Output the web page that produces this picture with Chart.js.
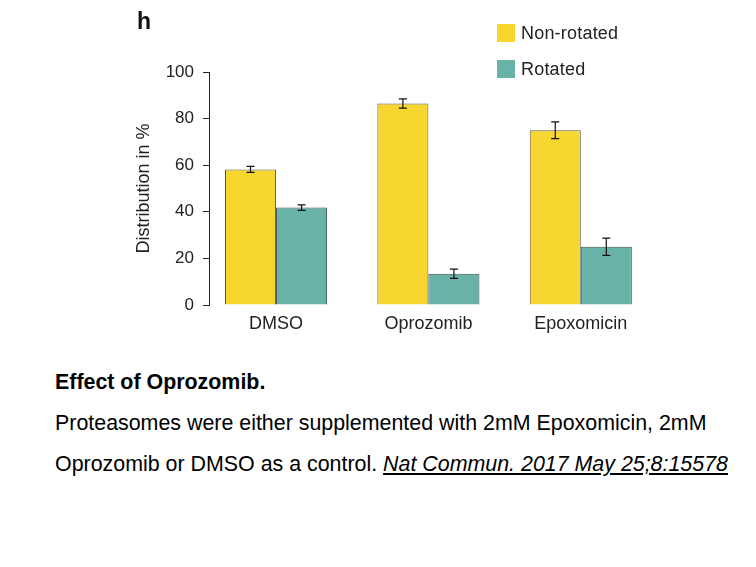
<!DOCTYPE html>
<html>
<head>
<meta charset="utf-8">
<script src="https://cdn.jsdelivr.net/npm/chart.js@4.4.0/dist/chart.umd.min.js"></script>
<style>
  body { margin: 0; background: #fff; font-family: "Liberation Sans", Arial, sans-serif; }
  #wrap { position: relative; width: 756px; height: 567px; }
  #chart { position: absolute; left: 0; top: 0; }
  #panel { position: absolute; left: 137px; top: 8px; font-size: 23px; font-weight: bold; color: #111; }
  #legend { position: absolute; left: 497px; top: 24px; font-size: 18px; color: #222; }
  #legend div { height: 36px; display: flex; align-items: flex-start; }
  #legend span.box { display: inline-block; width: 18px; height: 18px; margin-right: 6px; }
  #legend span.txt { line-height: 18px; letter-spacing: 0.2px; }
  #caption { position: absolute; left: 55px; top: 362px; font-size: 21.4px; color: #000; line-height: 41px; }
  #caption b { display: block; }
  #caption a { color: #000; font-style: italic; text-decoration: underline; }
</style>
</head>
<body>
<div id="wrap">
  <canvas id="chart" width="756" height="345"></canvas>
  <div id="panel">h</div>
  <div id="legend"></div>
  <div id="caption">
    <b>Effect of Oprozomib.</b>
    Proteasomes were either supplemented with 2mM Epoxomicin, 2mM<br>
    Oprozomib or DMSO as a control. <a href="#">Nat Commun. 2017 May 25;8:15578</a>
  </div>
</div>
<script>
var categories = ["DMSO", "Oprozomib", "Epoxomicin"];
var nonRotated = [58.2, 86.5, 75.0];
var nonRotatedErr = [1.3, 2.0, 3.6];
var rotated = [41.8, 13.4, 25.0];
var rotatedErr = [1.2, 2.0, 3.7];
var yTicks = [0, 20, 40, 60, 80, 100];

function points(vals) {
  return vals.map(function (v, i) { return { x: i, y: v }; });
}

var errorBars = {
  id: 'errorBars',
  afterDatasetsDraw: function (chart) {
    var ctx = chart.ctx;
    var y = chart.scales.y;
    ctx.save();
    ctx.strokeStyle = '#111';
    ctx.lineWidth = 1.2;
    chart.data.datasets.forEach(function (ds, di) {
      var meta = chart.getDatasetMeta(di);
      meta.data.forEach(function (bar, i) {
        var v = ds.data[i].y, e = ds.errors[i];
        var top = y.getPixelForValue(v + e), bot = y.getPixelForValue(v - e);
        ctx.beginPath();
        ctx.moveTo(bar.x, top); ctx.lineTo(bar.x, bot);
        ctx.moveTo(bar.x - 4, top); ctx.lineTo(bar.x + 4, top);
        ctx.moveTo(bar.x - 4, bot); ctx.lineTo(bar.x + 4, bot);
        ctx.stroke();
      });
    });
    ctx.restore();
  }
};

var chart = new Chart(document.getElementById('chart'), {
  type: 'bar',
  data: {
    datasets: [{
      label: 'Non-rotated',
      data: points(nonRotated),
      errors: nonRotatedErr,
      backgroundColor: '#F7D62F',
      borderColor: '#5a5a4a',
      borderWidth: 1
    }, {
      label: 'Rotated',
      data: points(rotated),
      errors: rotatedErr,
      backgroundColor: '#69B2A7',
      borderColor: '#3d4f4c',
      borderWidth: 1
    }]
  },
  options: {
    responsive: false,
    animation: false,
    categoryPercentage: 0.67,
    barPercentage: 1,
    layout: { padding: { left: 130, top: 72, right: 96, bottom: 0 } },
    plugins: { legend: { display: false }, tooltip: { enabled: false } },
    scales: {
      x: {
        type: 'linear',
        offset: false,
        min: -0.44,
        max: 2.52,
        grid: { display: false, offset: false },
        border: { display: false },
        afterBuildTicks: function (s) {
          s.ticks = categories.map(function (c, i) { return { value: i }; });
        },
        afterFit: function (s) { s.height = 40; },
        ticks: {
          autoSkip: false,
          maxRotation: 0,
          padding: 0,
          color: '#222',
          font: { family: 'Liberation Sans', size: 18 },
          callback: function (v) { return categories[v]; }
        }
      },
      y: {
        min: 0,
        max: 100,
        afterBuildTicks: function (s) {
          s.ticks = yTicks.map(function (t) { return { value: t }; });
        },
        afterFit: function (s) { s.width = 79; },
        grid: { drawOnChartArea: false, tickLength: 6, color: '#222', lineWidth: 1 },
        border: { color: '#222', width: 1 },
        ticks: {
          padding: 9,
          color: '#222',
          font: { family: 'Liberation Sans', size: 17 }
        },
        title: {
          display: true,
          text: 'Distribution in %',
          color: '#222',
          padding: { top: 3, bottom: 0 },
          font: { family: 'Liberation Sans', size: 18 }
        }
      }
    }
  },
  plugins: [errorBars]
});

var legend = document.getElementById('legend');
chart.data.datasets.forEach(function (ds) {
  var row = document.createElement('div');
  row.innerHTML = '<span class="box" style="background:' + ds.backgroundColor + '"></span><span class="txt">' + ds.label + '</span>';
  legend.appendChild(row);
});
</script>
</body>
</html>
